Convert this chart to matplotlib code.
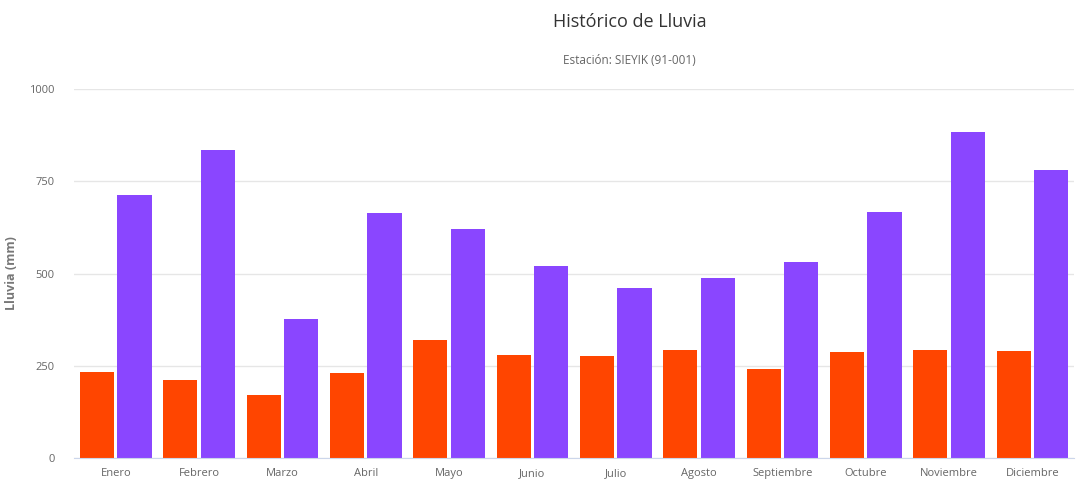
import matplotlib
matplotlib.use("Agg")
import matplotlib.pyplot as plt
import numpy as np

months = ["Enero", "Febrero", "Marzo", "Abril", "Mayo", "Junio", "Julio",
          "Agosto", "Septiembre", "Octubre", "Noviembre", "Diciembre"]
serie_a = [233, 211, 171, 230, 320, 279, 276, 293, 241, 287, 293, 290]
serie_b = [713, 835, 377, 664, 621, 520, 461, 488, 531, 667, 883, 780]
yticks = [0, 250, 500, 750, 1000]

plt.rcParams['font.family'] = ['Open Sans', 'DejaVu Sans']

fig = plt.figure(figsize=(10.76, 4.91), dpi=100)
ax = fig.add_axes([0.0688, 0.0672, 0.9294, 0.7515])

x = np.arange(len(months))
w = 0.41
ax.bar(x - 0.225, serie_a, width=w, color="#ff4500", zorder=3)
ax.bar(x + 0.225, serie_b, width=w, color="#8a46ff", zorder=3)

ax.set_xlim(-0.5, len(months) - 0.5)
ax.set_ylim(0, 1000)
ax.set_yticks(yticks)
ax.set_yticklabels([str(t) for t in yticks])
ax.set_xticks(x)
ax.set_xticklabels(months)
ax.tick_params(axis='both', length=0, labelsize=8, labelcolor="#666666")
ax.tick_params(axis='y', pad=14)
ax.tick_params(axis='x', pad=7)
ax.grid(axis='y', color="#e6e6e6", linewidth=1, zorder=0)
for s in ["top", "right", "left"]:
    ax.spines[s].set_visible(False)
ax.spines["bottom"].set_color("#ccd6eb")
ax.spines["bottom"].set_zorder(4)

ax.set_ylabel("Lluvia (mm)", fontsize=9, color="#777777", fontweight="bold")
ax.yaxis.set_label_coords(-0.056, 0.5)

fig.text(0.585, 0.955, "Histórico de Lluvia", ha="center", va="center", fontsize=13, color="#333333")
fig.text(0.585, 0.876, "Estación: SIEYIK (91-001)", ha="center", va="center", fontsize=8.5, color="#666666")

fig.savefig("out.png", dpi=100)
